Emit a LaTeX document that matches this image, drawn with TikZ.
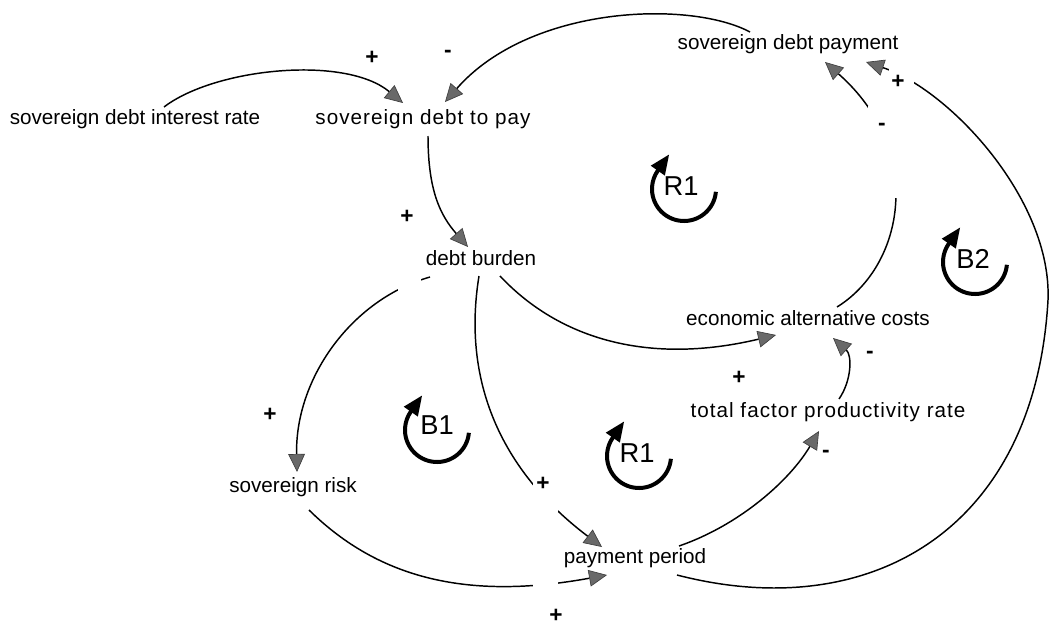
\documentclass[tikz,border=0pt]{standalone}
\usepackage{fontspec}
\setmainfont{Liberation Sans}
\newfontfamily\spaced[LetterSpace=5]{Liberation Sans}
\usetikzlibrary{arrows.meta,calc}
\definecolor{arrgray}{RGB}{105,105,105}
\begin{document}
\begin{tikzpicture}[x=0.75pt,y=-0.75pt,
  var/.style={font=\fontsize{15.5}{18}\selectfont, inner sep=0pt, anchor=base},
  sgn/.style={font=\fontsize{17}{20}\selectfont\bfseries, inner sep=0pt},
  lp/.style={font=\fontsize{20.5}{24}\selectfont, inner sep=0pt},
  link/.style={line width=1.1pt, -{Triangle[length=13.5pt,width=12.5pt,fill=arrgray,color=arrgray!60!black,line width=0.5pt]}},
  loopline/.style={line width=3pt, -{Triangle[length=15pt,width=12pt]}},
  mask/.style={fill=white}
]
\useasboundingbox (0,0) rectangle (1049,628);

% variables
\node[var] (sdir) at (135,124) {sovereign debt interest rate};
\node[var] (sdtp) at (423,124) {\spaced sovereign debt to pay};
\node[var] (sdp)  at (788,49)  {sovereign debt payment};
\node[var] (db)   at (481,265) {debt burden};
\node[var] (eac)  at (808,325) {economic alternative costs};
\node[var] (tfpr) at (828,417) {\spaced total factor productivity rate};
\node[var] (sr)   at (293,492) {sovereign risk};
\node[var] (pp)   at (635,563) {payment period};

% connectors
\draw[link] ($(sdir.base)+(29,-17)$) .. controls (215,68) and (345,55) .. ($(sdtp.base)+(-20,-21)$);
\draw[link] ($(sdp.base)+(-38,-17)$) .. controls (690,0) and (530,5) .. ($(sdtp.base)+(22,-22)$);
\draw[link] ($(sdtp.base)+(5,12)$) .. controls (428,190) and (440,215) .. ($(db.base)+(-13,-18)$);
\draw[link] ($(db.base)+(19,11)$) .. controls (560,340) and (650,365) .. ($(eac.base)+(-32,10)$);
\draw[link] ($(db.base)+(-51,12)$) .. controls (350,300) and (295,380) .. ($(sr.base)+(4,-20)$);
\draw[link] ($(db.base)+(-2,11)$) .. controls (462,380) and (500,470) .. ($(pp.base)+(-33,-16)$);
\draw[link] ($(sr.base)+(16,18)$) .. controls (380,580) and (470,600) .. ($(pp.base)+(-28,12)$);
\draw[link] ($(pp.base)+(44,-17)$) .. controls (740,525) and (790,480) .. ($(tfpr.base)+(-9,14)$);
\draw[link] ($(pp.base)+(42,12)$) .. controls (870,625) and (1035,530) .. (1048,300)
            .. controls (1052,200) and (950,90) .. ($(sdp.base)+(78,13)$);
\draw[link] ($(eac.base)+(29,-18)$) .. controls (905,265) and (925,150) .. ($(sdp.base)+(37,13)$);
\draw[link] ($(tfpr.base)+(11,-18)$) .. controls (852,380) and (852,355) .. ($(eac.base)+(25,13)$);

% gaps left by the label boxes
\fill[mask] (398,268) rectangle (421,298);
\fill[mask] (533,458) rectangle (558,628);
\fill[mask] (889,62) rectangle (914,100);
\fill[mask] (868,106) rectangle (910,198);

% polarity signs
\node[sgn] (s1)  at (372,58)  {+};
\node[sgn] (s2)  at (448,54)  {-};
\node[sgn] (s3)  at (898,82)  {+};
\node[sgn] (s4)  at (882,127) {-};
\node[sgn] (s5)  at (407,217) {+};
\node[sgn] (s6)  at (739,378) {+};
\node[sgn] (s7)  at (870,355) {-};
\node[sgn] (s8)  at (270,415) {+};
\node[sgn] (s9)  at (543,484) {+};
\node[sgn] (s10) at (826,454) {-};
\node[sgn] (s11) at (556,616) {+};

% loop identifiers
\coordinate (c1) at (684,189);
\coordinate (c2) at (975,262);
\coordinate (c3) at (437,430);
\coordinate (c4) at (639,456);
\node[lp] (r1a) at ($(c1)+(-3,-3)$) {R1};
\node[lp] (b2)  at ($(c2)+(-2,-3)$) {B2};
\node[lp] (b1)  at ($(c3)+(0,-5)$) {B1};
\node[lp] (r1b) at ($(c4)+(-2,-3)$) {R1};
\foreach \c in {c1,c2,c3,c4}{
  \draw[loopline] ([shift={(-5:24pt)}]\c) arc[start angle=-5, end angle=-215, radius=24pt] -- ++(55:15pt);
}
\end{tikzpicture}
\end{document}
